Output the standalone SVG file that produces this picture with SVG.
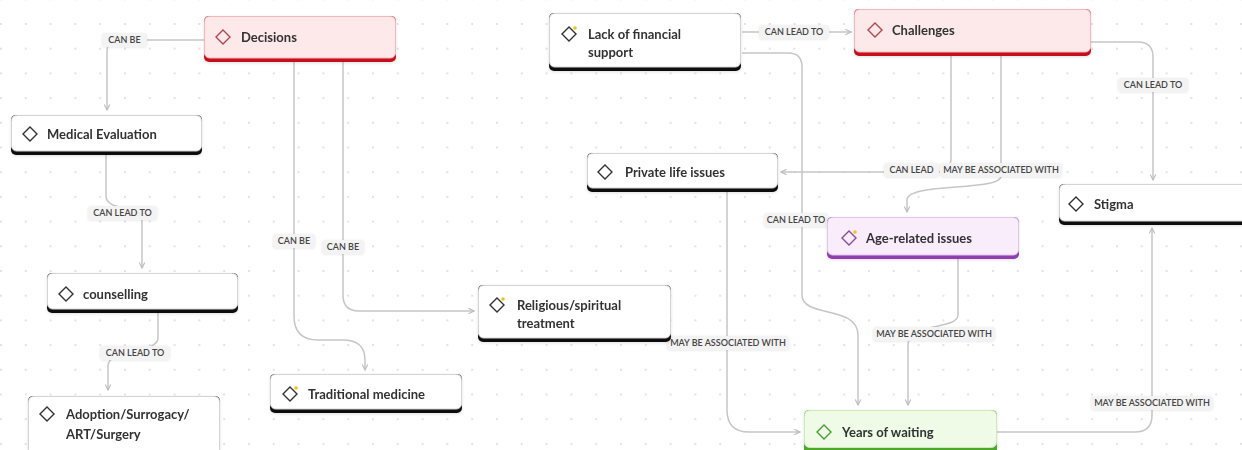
<svg xmlns="http://www.w3.org/2000/svg" width="1242" height="450" viewBox="0 0 1242 450">
<defs>
<pattern id="dots" x="0" y="23" width="24.8" height="24.7" patternUnits="userSpaceOnUse">
<circle cx="1" cy="1" r="0.9" fill="#d6d6d6"/>
</pattern>
<marker id="arr" viewBox="0 0 10 10" refX="9" refY="5" markerWidth="7" markerHeight="7" orient="auto" markerUnits="userSpaceOnUse">
<path d="M1,1 L9,5 L1,9" fill="none" stroke="#bdbdbd" stroke-width="1.6"/>
</marker>
<filter id="sh" x="-10%" y="-20%" width="120%" height="150%">
<feDropShadow dx="0" dy="1" stdDeviation="1.5" flood-color="#000" flood-opacity="0.12"/>
</filter>
<filter id="lsh" x="-10%" y="-30%" width="120%" height="160%">
<feDropShadow dx="0" dy="0.5" stdDeviation="1" flood-color="#000" flood-opacity="0.1"/>
</filter>
<path id="dia" d="M0,-7 L7,0 L0,7 L-7,0 Z"/>
</defs>
<style>
.conn{fill:none;stroke:#c6c6c6;stroke-width:1.5;marker-end:url(#arr)}
.lbg{fill:#f3f3f3}
.lt{font-family:Lato,"Liberation Sans",sans-serif;font-size:9px;fill:#444444;text-anchor:middle;font-weight:600}
.body{fill:#ffffff;stroke:#d4d4d4;stroke-width:1}
.bar{fill:#111111}
.nt{font-family:Lato,"Liberation Sans",sans-serif;font-size:13px;fill:#333333;font-weight:700}
.di{fill:none;stroke:#333333;stroke-width:1.4}
.dot{fill:#f2c21b}
.red .body{fill:#fde9ea;stroke:#f0babd}
.red .bar{fill:#c8101a}
.red .di{stroke:#b4474d}
.pur .body{fill:#f9edfb;stroke:#e3c5ec}
.pur .bar{fill:#8f3cb0}
.pur .di{stroke:#8b4aa2}
.grn .body{fill:#effbe7;stroke:#cbebb7}
.grn .bar{fill:#4ea82c}
.grn .di{stroke:#4c9c33}
</style>
<rect width="1242" height="450" fill="#ffffff"/>
<rect width="1242" height="450" fill="url(#dots)"/>

<g id="connectors">
<path class="conn" d="M204,40 H118 Q107,40 107,52 V110"/>
<path class="conn" d="M106,154 V196 C106,212 142,204 142,222 V268"/>
<path class="conn" d="M158,312 V338 C158,354 108,348 108,366 V390"/>
<path class="conn" d="M294,62 V316 Q294,340 318,340 H343 Q365,340 365,360 V370"/>
<path class="conn" d="M343,62 V295 Q343,311 359,311 H474"/>
<path class="conn" d="M742,32 H851"/>
<path class="conn" d="M742,53 H788 Q802,53 802,67 V295 C802,318 858,305 858,335 V405"/>
<path class="conn" d="M951,56 V158 Q951,172 937,172 H781"/>
<path class="conn" d="M1001,56 V176 C1001,192 907,182 907,200 V212"/>
<path class="conn" d="M1091,42 H1138 Q1153,42 1153,57 V180"/>
<path class="conn" d="M958,258 V315 C958,330 908,322 908,345 V405"/>
<path class="conn" d="M997,432 H1135 Q1152,432 1152,415 V228"/>
<path class="conn" d="M727,191 V410 Q727,432 749,432 H800"/>

<g filter="url(#lsh)">
<rect class="lbg" x="102" y="33" width="45" height="14" rx="3"/>
<rect class="lbg" x="88" y="206" width="69" height="14" rx="3"/>
<rect class="lbg" x="100" y="346" width="70" height="14" rx="3"/>
<rect class="lbg" x="273" y="234" width="42" height="14" rx="3"/>
<rect class="lbg" x="322" y="240" width="42" height="14" rx="3"/>
<rect class="lbg" x="759" y="25" width="70" height="14" rx="3"/>
<rect class="lbg" x="764" y="213" width="64" height="14" rx="3"/>
<rect class="lbg" x="884" y="163" width="55" height="14" rx="3"/>
<rect class="lbg" x="940" y="163" width="122" height="14" rx="3"/>
<rect class="lbg" x="1118" y="78" width="70" height="14" rx="3"/>
<rect class="lbg" x="667" y="336" width="122" height="14" rx="3"/>
<rect class="lbg" x="873" y="327" width="122" height="14" rx="3"/>
<rect class="lbg" x="1091" y="396" width="122" height="14" rx="3"/>
</g>
<text class="lt" x="124.5" y="43.2">CAN BE</text>
<text class="lt" x="122.5" y="216.2">CAN LEAD TO</text>
<text class="lt" x="135" y="356.2">CAN LEAD TO</text>
<text class="lt" x="294" y="244.2">CAN BE</text>
<text class="lt" x="343" y="250.2">CAN BE</text>
<text class="lt" x="794" y="35.2">CAN LEAD TO</text>
<text class="lt" x="796" y="223.2">CAN LEAD TO</text>
<text class="lt" x="911.5" y="173.2">CAN LEAD</text>
<text class="lt" x="1001" y="173.2">MAY BE ASSOCIATED WITH</text>
<text class="lt" x="1153" y="88.2">CAN LEAD TO</text>
<text class="lt" x="728" y="346.2">MAY BE ASSOCIATED WITH</text>
<text class="lt" x="934" y="337.2">MAY BE ASSOCIATED WITH</text>
<text class="lt" x="1152" y="406.2">MAY BE ASSOCIATED WITH</text>
</g>

<g id="n-decisions" class="red" filter="url(#sh)">
<rect class="bar" x="204" y="16" width="192" height="46" rx="5"/>
<rect class="body" x="204.5" y="16.5" width="191" height="41.5" rx="5"/>
<use href="#dia" class="di" x="223" y="37"/>
<text class="nt" x="241" y="41.5">Decisions</text>
</g>
<g id="n-medical" filter="url(#sh)">
<rect class="bar" x="11" y="115" width="191" height="40" rx="5"/>
<rect class="body" x="11.5" y="115.5" width="190" height="35.5" rx="5"/>
<use href="#dia" class="di" x="30" y="134"/>
<text class="nt" x="47" y="139">Medical Evaluation</text>
</g>
<g id="n-counselling" filter="url(#sh)">
<rect class="bar" x="47" y="273" width="191" height="40" rx="5"/>
<rect class="body" x="47.5" y="273.5" width="190" height="35.5" rx="5"/>
<use href="#dia" class="di" x="66" y="294"/>
<text class="nt" x="83" y="298.5">counselling</text>
</g>
<g id="n-adoption" filter="url(#sh)">
<rect class="bar" x="28" y="396" width="192" height="64" rx="5"/>
<rect class="body" x="28.5" y="396.5" width="191" height="59.5" rx="5"/>
<use href="#dia" class="di" x="47" y="414"/>
<text class="nt" x="66" y="419">Adoption/Surrogacy/</text>
<text class="nt" x="66" y="439">ART/Surgery</text>
</g>
<g id="n-traditional" filter="url(#sh)">
<rect class="bar" x="270" y="374" width="192" height="39" rx="5"/>
<rect class="body" x="270.5" y="374.5" width="191" height="34.5" rx="5"/>
<use href="#dia" class="di" x="290" y="394"/>
<circle class="dot" cx="296" cy="388" r="1.8"/>
<text class="nt" x="308" y="399">Traditional medicine</text>
</g>
<g id="n-religious" filter="url(#sh)">
<rect class="bar" x="478" y="285" width="193" height="57" rx="5"/>
<rect class="body" x="478.5" y="285.5" width="192" height="52.5" rx="5"/>
<use href="#dia" class="di" x="497" y="305"/>
<circle class="dot" cx="503" cy="299" r="1.8"/>
<text class="nt" x="517" y="310">Religious/spiritual</text>
<text class="nt" x="517" y="328">treatment</text>
</g>
<g id="n-financial" filter="url(#sh)">
<rect class="bar" x="549" y="13" width="192" height="58" rx="5"/>
<rect class="body" x="549.5" y="13.5" width="191" height="53.5" rx="5"/>
<use href="#dia" class="di" x="569" y="34"/>
<circle class="dot" cx="575" cy="28" r="1.8"/>
<text class="nt" x="588" y="39">Lack of financial</text>
<text class="nt" x="588" y="57">support</text>
</g>
<g id="n-challenges" class="red" filter="url(#sh)">
<rect class="bar" x="854" y="9" width="237" height="47" rx="5"/>
<rect class="body" x="854.5" y="9.5" width="236" height="42.5" rx="5"/>
<use href="#dia" class="di" x="875" y="30"/>
<text class="nt" x="892" y="35">Challenges</text>
</g>
<g id="n-private" filter="url(#sh)">
<rect class="bar" x="587" y="153" width="191" height="39" rx="5"/>
<rect class="body" x="587.5" y="153.5" width="190" height="34.5" rx="5"/>
<use href="#dia" class="di" x="605" y="172"/>
<text class="nt" x="625" y="177">Private life issues</text>
</g>
<g id="n-age" class="pur" filter="url(#sh)">
<rect class="bar" x="827" y="217" width="192" height="42" rx="5"/>
<rect class="body" x="827.5" y="217.5" width="191" height="37.5" rx="5"/>
<use href="#dia" class="di" x="849" y="238"/>
<circle class="dot" cx="855" cy="232" r="1.8"/>
<text class="nt" x="866" y="243">Age-related issues</text>
</g>
<g id="n-stigma" filter="url(#sh)">
<rect class="bar" x="1059" y="184" width="192" height="41" rx="5"/>
<rect class="body" x="1059.5" y="184.5" width="191" height="36.5" rx="5"/>
<use href="#dia" class="di" x="1076" y="204"/>
<text class="nt" x="1094" y="209">Stigma</text>
</g>
<g id="n-years" class="grn" filter="url(#sh)">
<rect class="bar" x="804" y="410" width="193" height="45" rx="5"/>
<rect class="body" x="804.5" y="410.5" width="192" height="37" rx="5"/>
<use href="#dia" class="di" x="824" y="432"/>
<text class="nt" x="842" y="437">Years of waiting</text>
</g>
</svg>
